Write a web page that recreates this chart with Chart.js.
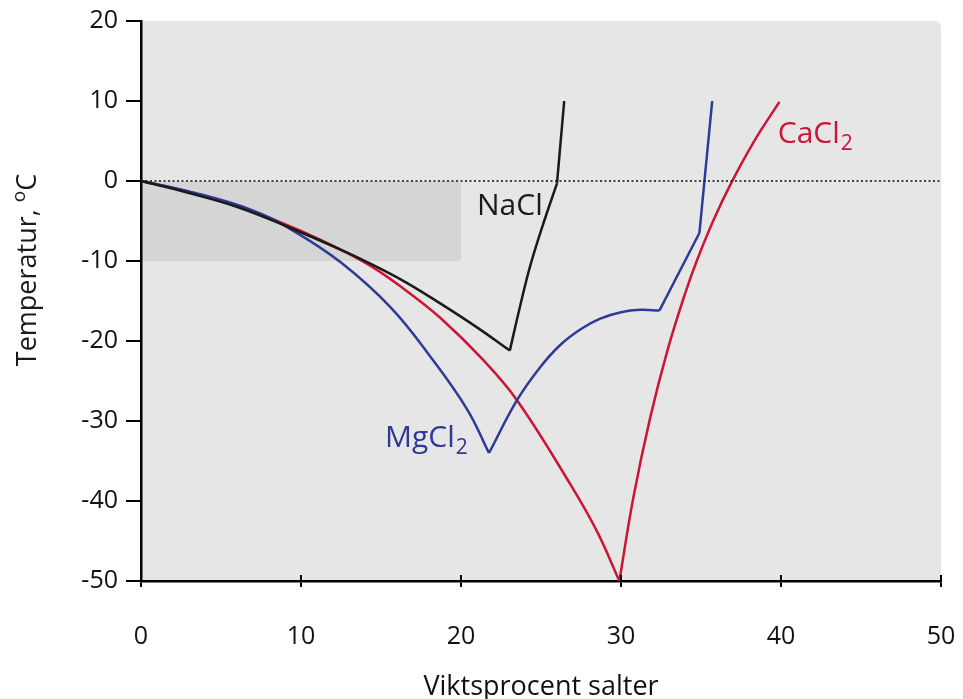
<!DOCTYPE html>
<html>
<head>
<meta charset="utf-8">
<script src="https://cdn.jsdelivr.net/npm/chart.js@4.4.1/dist/chart.umd.min.js"></script>
<style>
  html, body { margin: 0; padding: 0; background: #fff; }
  canvas { display: block; }
</style>
</head>
<body>
<canvas id="phase" width="963" height="699"></canvas>
<script>
// axis ranges / ticks
const xTicks = [0, 10, 20, 30, 40, 50];
const yTicks = [-50, -40, -30, -20, -10, 0, 10, 20];

// shaded region (x from..to, y from..to)
const shadedX = [0, 20];
const shadedY = [-10, 0];

// NaCl branches [wt%, degC]
const naclIce = [[0,0],[3,-1.5],[6.25,-3.4],[9.5,-6],[12.5,-8.6],[14.1,-10.1],[16.5,-12.6],[18.7,-15.3],[21,-18.3],[23.05,-21.2]];
const naclHydrate = [[23.05,-21.2],[23.7,-15.6],[24.3,-10.8],[25.1,-5.6],[26,-0.3]];
const naclSalt = [[26,-0.3],[26.45,10]];

// MgCl2 branches
const mgIce = [[0,0],[3,-1.3],[6.9,-3.6],[9.5,-6.2],[12.5,-10.2],[15.6,-15.8],[18.1,-22],[20.4,-28.6],[21.75,-34]];
const mgHydrate = [[21.75,-34],[23.5,-27.4],[24.9,-23.4],[26.2,-20.5],[27.5,-18.5],[28.7,-17.2],[30,-16.4],[31.2,-16.1],[32.4,-16.2]];
const mgTetra = [[32.4,-16.2],[34.9,-6.5]];
const mgSalt = [[34.9,-6.5],[35.7,10]];

// CaCl2 branches
const caIce = [[0,0],[3,-1.35],[6.5,-3.45],[10,-6.25],[14,-10.2],[16.5,-13.6],[18.7,-17.1],[21.4,-22.4],[23.5,-27.4],[26.8,-37.8],[28.5,-43.8],[29.9,-50]];
const caHexa = [[29.9,-50],[30.75,-39.8],[31.8,-29.8],[32.9,-21.2],[34,-14.1],[34.75,-9.9],[35.8,-4.8],[36.9,-0.2],[38.3,4.9],[39.9,9.9]];

const zeroLine = [[0,0],[50,0]];

// series labels: text, subscript, anchor (wt%, degC)
const labelText = ["NaCl", "MgCl", "CaCl"];
const labelSub = ["", "2", "2"];
const labelX = [21.0, 15.25, 39.8];
const labelY = [-4.2, -33.3, 4.8];

const BLACK = "#1a1a1a";
const BLUE = "#2f3a95";
const RED = "#cc1437";
const labelColors = [BLACK, BLUE, RED];
const FONT = '"Open Sans", "DejaVu Sans", sans-serif';

function pts(a) { return a.map(p => ({ x: p[0], y: p[1] })); }

function curve(data, color) {
  return { data: pts(data), borderColor: color, borderWidth: 2.5, pointRadius: 0, tension: 0.4, fill: false };
}

const bgPlugin = {
  id: "bg",
  beforeDraw(chart) {
    const { ctx, chartArea: a, scales: { x, y } } = chart;
    ctx.save();
    ctx.fillStyle = "#e6e6e6";
    ctx.beginPath();
    ctx.roundRect(a.left, a.top, a.right - a.left, a.bottom - a.top, [0, 6, 0, 0]);
    ctx.fill();
    const x0 = x.getPixelForValue(shadedX[0]), x1 = x.getPixelForValue(shadedX[1]);
    const y0 = y.getPixelForValue(shadedY[1]), y1 = y.getPixelForValue(shadedY[0]);
    ctx.fillStyle = "#d5d5d5";
    ctx.beginPath();
    ctx.roundRect(x0, y0, x1 - x0, y1 - y0, [0, 4, 4, 0]);
    ctx.fill();
    ctx.restore();
  },
  afterDraw(chart) {
    // x ticks cross the axis line in the original, draw the inner half
    const { ctx, chartArea: a, scales: { x } } = chart;
    ctx.save();
    ctx.strokeStyle = "#000";
    ctx.lineWidth = 2;
    xTicks.slice(1).forEach(v => {
      const px = Math.round(x.getPixelForValue(v));
      ctx.beginPath();
      ctx.moveTo(px, a.bottom);
      ctx.lineTo(px, a.bottom - 6);
      ctx.stroke();
    });
    ctx.restore();
  }
};

const textPlugin = {
  id: "texts",
  afterDatasetsDraw(chart) {
    const { ctx, chartArea: a, scales: { x, y } } = chart;
    ctx.save();
    ctx.textBaseline = "alphabetic";
    ctx.textAlign = "left";
    labelText.forEach((t, i) => {
      const px = x.getPixelForValue(labelX[i]);
      const py = y.getPixelForValue(labelY[i]);
      ctx.fillStyle = labelColors[i];
      ctx.font = "30px " + FONT;
      ctx.fillText(t, px, py);
      if (labelSub[i]) {
        const w = ctx.measureText(t).width;
        ctx.font = "21px " + FONT;
        ctx.fillText(labelSub[i], px + w + 1, py + 7);
      }
    });

    // y axis title with superscript o
    ctx.translate(36, (a.top + a.bottom) / 2 - 31);
    ctx.rotate(-Math.PI / 2);
    ctx.fillStyle = BLACK;
    const main = "Temperatur, ";
    ctx.font = "27px " + FONT;
    const wMain = ctx.measureText(main).width;
    ctx.font = "19px " + FONT;
    const wSup = ctx.measureText("o").width;
    ctx.font = "27px " + FONT;
    const wC = ctx.measureText("C").width;
    let sx = -(wMain + wSup + wC) / 2;
    ctx.fillText(main, sx, 0);
    sx += wMain;
    ctx.font = "19px " + FONT;
    ctx.fillText("o", sx, -11);
    sx += wSup;
    ctx.font = "27px " + FONT;
    ctx.fillText("C", sx, 0);
    ctx.restore();
  }
};

new Chart(document.getElementById("phase"), {
  type: "line",
  data: {
    datasets: [
      { data: pts(zeroLine), borderColor: "#111", borderWidth: 1.4, borderDash: [2, 2.5], pointRadius: 0 },
      curve(naclIce, BLACK), curve(naclHydrate, BLACK), curve(naclSalt, BLACK),
      curve(mgIce, BLUE), curve(mgHydrate, BLUE), curve(mgTetra, BLUE), curve(mgSalt, BLUE),
      curve(caIce, RED), curve(caHexa, RED)
    ]
  },
  options: {
    responsive: false,
    animation: false,
    devicePixelRatio: 1,
    layout: { padding: { top: 21, right: 22, bottom: 0, left: 0 } },
    plugins: { legend: { display: false }, tooltip: { enabled: false } },
    scales: {
      x: {
        type: "linear",
        min: xTicks[0], max: xTicks[xTicks.length - 1],
        afterBuildTicks: s => { s.ticks = xTicks.map(v => ({ value: v })); },
        afterFit: s => { s.height = 118; s.paddingLeft = 0; s.paddingRight = 0; },
        border: { color: "#000", width: 2.5 },
        grid: { drawOnChartArea: false, drawTicks: true, tickLength: 6, color: "#000", lineWidth: 2 },
        ticks: { color: "#111", font: { family: FONT, size: 25 }, padding: 35 },
        title: { display: true, text: "Viktsprocent salter", color: "#111", font: { family: FONT, size: 27 }, padding: { top: 0, bottom: -5 } }
      },
      y: {
        type: "linear",
        min: yTicks[0], max: yTicks[yTicks.length - 1],
        afterBuildTicks: s => { s.ticks = yTicks.map(v => ({ value: v })); },
        afterFit: s => { s.width = 141; s.paddingTop = 0; s.paddingBottom = 0; },
        border: { color: "#000", width: 2.5 },
        grid: { drawOnChartArea: false, drawTicks: true, tickLength: 15, color: "#000", lineWidth: 2 },
        ticks: { color: "#111", font: { family: FONT, size: 25 }, padding: 8 }
      }
    }
  },
  plugins: [bgPlugin, textPlugin]
});
</script>
</body>
</html>
